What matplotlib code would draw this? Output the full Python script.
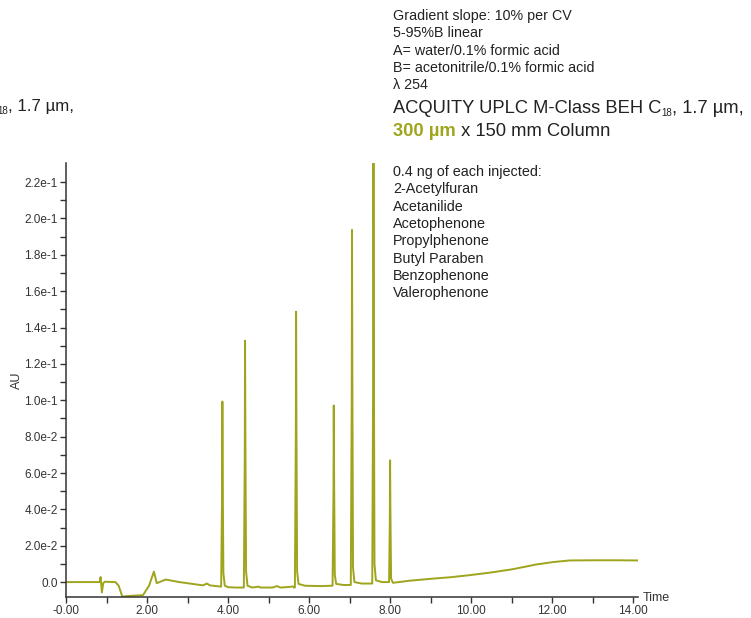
import matplotlib
matplotlib.use("Agg")
import matplotlib.pyplot as plt
from matplotlib.ticker import FixedLocator, MultipleLocator

plt.rcParams['font.family'] = ['Liberation Sans', 'DejaVu Sans']

# UV trace at 254 nm, retention time (min) vs absorbance (AU)
time_min = [
    0.00, 0.83, 0.855, 0.885, 0.92, 0.96, 1.22, 1.30, 1.39, 1.56, 1.90, 2.05,
    2.17, 2.24, 2.46, 2.80, 3.38, 3.44, 3.48, 3.55, 3.79,
    3.83, 3.853, 3.86, 3.868, 3.885, 3.92, 4.00, 4.20, 4.37,
    4.39, 4.413, 4.42, 4.428, 4.445, 4.48, 4.60, 4.75, 4.80, 5.10, 5.20, 5.30,
    5.50, 5.60, 5.63,
    5.65, 5.673, 5.68, 5.688, 5.705, 5.74, 5.90, 6.30, 6.57,
    6.58, 6.603, 6.61, 6.618, 6.635, 6.67, 6.85, 7.02,
    7.03, 7.053, 7.06, 7.068, 7.085, 7.12, 7.30, 7.55,
    7.56, 7.583, 7.59, 7.598, 7.615, 7.65, 7.80, 7.97,
    7.975, 7.994, 8.00, 8.008, 8.025, 8.07,
    8.50, 9.00, 9.50, 9.96, 10.50, 11.03, 11.30, 11.61, 12.02, 12.43, 13.00,
    13.60, 14.12,
]
absorbance = [
    0.0, 0.0, 0.0028, -0.0057, -0.0005, 0.0002, 0.0, -0.0020, -0.0080, -0.0076,
    -0.0072, -0.0020, 0.0058, -0.0006, 0.0014, 0.0, -0.0018, -0.0012, -0.0008,
    -0.0018, -0.0024,
    -0.0025, 0.050, 0.0993, 0.060, 0.005, -0.0020, -0.0028, -0.0030, -0.0030,
    -0.0030, 0.070, 0.1328, 0.080, 0.006, -0.0020, -0.0030, -0.0025, -0.0030,
    -0.0030, -0.0022, -0.0030, -0.0027, -0.0024, -0.0030,
    -0.0030, 0.080, 0.1487, 0.090, 0.006, -0.0010, -0.0020, -0.0022, -0.0020,
    -0.0020, 0.050, 0.0971, 0.060, 0.004, -0.0010, -0.0016, -0.0016,
    -0.0016, 0.100, 0.1937, 0.120, 0.008, 0.0, -0.0008, -0.0008,
    -0.0008, 0.120, 0.2305, 0.140, 0.010, 0.0010, 0.0, 0.0,
    0.0, 0.035, 0.0670, 0.040, 0.002, -0.0004,
    0.0008, 0.0018, 0.0027, 0.0038, 0.0053, 0.0071, 0.0083, 0.0097, 0.0110,
    0.0119, 0.0120, 0.0120, 0.0119,
]

x_ticks = [0, 2, 4, 6, 8, 10, 12, 14]
x_labels = ["-0.00", "2.00", "4.00", "6.00", "8.00", "10.00", "12.00", "14.00"]
y_ticks = [0.0, 0.02, 0.04, 0.06, 0.08, 0.10, 0.12, 0.14, 0.16, 0.18, 0.20, 0.22]
y_labels = ["0.0", "2.0e-2", "4.0e-2", "6.0e-2", "8.0e-2", "1.0e-1", "1.2e-1",
            "1.4e-1", "1.6e-1", "1.8e-1", "2.0e-1", "2.2e-1"]

method_lines = [
    "Gradient slope: 10% per CV",
    "5-95%B linear",
    "A= water/0.1% formic acid",
    "B= acetonitrile/0.1% formic acid",
    "λ 254",
]
compounds = [
    "0.4 ng of each injected:",
    "2-Acetylfuran",
    "Acetanilide",
    "Acetophenone",
    "Propylphenone",
    "Butyl Paraben",
    "Benzophenone",
    "Valerophenone",
]
column_parts = ["ACQUITY UPLC M-Class BEH C", "18", ", 1.7 µm,"]

olive = "#9ea51c"
ink = "#222222"
W, H = 751, 618

fig = plt.figure(figsize=(W / 100, H / 100), dpi=100)
ax = fig.add_axes([66 / W, 1 - 597 / H, (638 - 66) / W, (597 - 163) / H])

ax.plot(time_min, absorbance, color=olive, lw=1.4)

ax.set_xlim(0, 14.12)
ax.set_ylim(-0.0082, 0.2305)
ax.xaxis.set_major_locator(FixedLocator(x_ticks))
ax.set_xticklabels(x_labels)
ax.xaxis.set_minor_locator(MultipleLocator(1))
ax.yaxis.set_major_locator(FixedLocator(y_ticks))
ax.set_yticklabels(y_labels)
ax.yaxis.set_minor_locator(FixedLocator([v / 100 for v in range(1, 23, 2)]))

for side in ("top", "right"):
    ax.spines[side].set_visible(False)
for side in ("left", "bottom"):
    ax.spines[side].set_color("#333333")
    ax.spines[side].set_linewidth(1.1)
ax.tick_params(which="both", direction="out", length=4, width=1, color="#333333",
               labelsize=8.5, labelcolor="#333333", pad=2)

ax.set_ylabel("AU", fontsize=9, color="#333333", labelpad=1)
fig.text(643 / W, 1 - 598 / H, "Time", fontsize=9, color="#333333",
         ha="left", va="center")


def px(x, y):
    return x / W, 1 - y / H


def chain(prev, text, x_side, base_y, size, ha, **kw):
    # place text next to prev, sharing a baseline given in figure pixels
    return fig.add_artist(plt.Annotation(
        text, xy=(x_side, 1 - base_y / H), xycoords=(prev, "figure fraction"),
        ha=ha, va="baseline", fontsize=size, **kw))


for i, line in enumerate(method_lines):
    fig.text(*px(393, 16 + i * 17.3), line, fontsize=10.3, color=ink,
             ha="left", va="center")

# column description with C18 subscript, built left to right
col_size = 13.2
sub_size = 7
a = fig.text(*px(393, 113), column_parts[0], fontsize=col_size, color=ink,
             ha="left", va="baseline")
b = chain(a, column_parts[1], 1, 116, sub_size, "left", color=ink)
chain(b, column_parts[2], 1, 113, col_size, "left", color=ink)

# same line again, running off the left edge, built right to left
left_size = 12.2
c = fig.text(*px(74, 111), column_parts[2], fontsize=left_size, color=ink,
             ha="right", va="baseline")
d = chain(c, column_parts[1], 0, 114, sub_size, "right", color=ink)
chain(d, column_parts[0], 0, 111, left_size, "right", color=ink)

t300 = fig.text(*px(393, 136), "300 µm", fontsize=col_size, color=olive,
                fontweight="bold", ha="left", va="baseline")
chain(t300, " x 150 mm Column", 1, 136, col_size, "left", color=ink)

for i, name in enumerate(compounds):
    fig.text(*px(393, 172 + i * 17.3), name, fontsize=10.4, color=ink,
             ha="left", va="center")

fig.savefig("out.png", dpi=100)
